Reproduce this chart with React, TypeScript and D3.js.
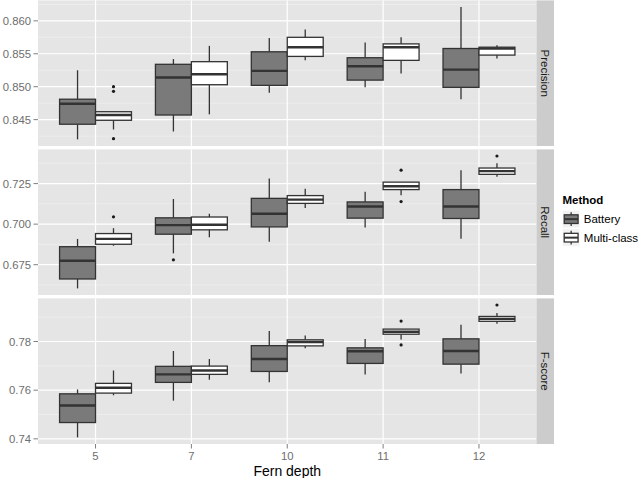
import React from "react";
import * as d3 from "d3";

// ---- data ----
const depths = ["5", "7", "10", "11", "12"];
const methods = ["Battery", "Multi-class"];
const metrics = ["Precision", "Recall", "F-score"];

// [lower whisker, q1, median, q3, upper whisker] per depth
const precisionBattery = [
  [0.842, 0.8443, 0.8474, 0.8481, 0.8525],
  [0.8432, 0.8457, 0.8514, 0.8534, 0.8542],
  [0.8491, 0.8502, 0.8524, 0.8553, 0.8574],
  [0.8499, 0.851, 0.8531, 0.8544, 0.8567],
  [0.8481, 0.8499, 0.8526, 0.8558, 0.8621],
];
const precisionMulti = [
  [0.8435, 0.8449, 0.8457, 0.8462, 0.8462],
  [0.8458, 0.8503, 0.8519, 0.8538, 0.8562],
  [0.854, 0.8546, 0.856, 0.8575, 0.8587],
  [0.852, 0.854, 0.856, 0.8565, 0.8575],
  [0.8543, 0.8548, 0.8558, 0.856, 0.8563],
];
const precisionBatteryOut = [[], [], [], [], []];
const precisionMultiOut = [[0.85, 0.8493, 0.8421], [], [], [], []];

const recallBattery = [
  [0.6604, 0.6662, 0.6774, 0.6861, 0.6909],
  [0.682, 0.6938, 0.6994, 0.7039, 0.7155],
  [0.6892, 0.6983, 0.7064, 0.7159, 0.7282],
  [0.6979, 0.7037, 0.7109, 0.7137, 0.7199],
  [0.691, 0.7035, 0.7109, 0.7213, 0.7333],
];
const recallMulti = [
  [0.6867, 0.6876, 0.6909, 0.6942, 0.6975],
  [0.6919, 0.6965, 0.6996, 0.7044, 0.7064],
  [0.71, 0.7128, 0.7151, 0.7176, 0.7218],
  [0.7178, 0.7213, 0.7234, 0.7259, 0.7259],
  [0.7292, 0.7307, 0.7327, 0.7346, 0.7375],
];
const recallBatteryOut = [[], [0.678], [], [], []];
const recallMultiOut = [[0.7045], [], [], [0.7333, 0.7139], [0.742]];

const fscoreBattery = [
  [0.7406, 0.7467, 0.7537, 0.7585, 0.7603],
  [0.7557, 0.7632, 0.7665, 0.7698, 0.7761],
  [0.7633, 0.7677, 0.7728, 0.7783, 0.7843],
  [0.7664, 0.771, 0.776, 0.7774, 0.781],
  [0.7669, 0.7707, 0.7761, 0.7811, 0.7869],
];
const fscoreMulti = [
  [0.7579, 0.7588, 0.761, 0.7628, 0.7681],
  [0.7643, 0.7665, 0.7681, 0.7699, 0.7728],
  [0.7772, 0.7782, 0.7798, 0.7807, 0.7825],
  [0.7808, 0.783, 0.784, 0.7851, 0.7851],
  [0.7873, 0.7883, 0.7893, 0.7903, 0.7917],
];
const fscoreBatteryOut = [[], [], [], [], []];
const fscoreMultiOut = [[], [], [], [0.7884, 0.7786], [0.795]];

const precisionTicks = [0.845, 0.85, 0.855, 0.86];
const recallTicks = [0.675, 0.7, 0.725];
const fscoreTicks = [0.74, 0.76, 0.78];
const tickFormats = [".3f", ".3f", ".2f"];

const panelStats = [
  [precisionBattery, precisionMulti],
  [recallBattery, recallMulti],
  [fscoreBattery, fscoreMulti],
];
const panelOut = [
  [precisionBatteryOut, precisionMultiOut],
  [recallBatteryOut, recallMultiOut],
  [fscoreBatteryOut, fscoreMultiOut],
];
const panelTicks = [precisionTicks, recallTicks, fscoreTicks];

const fills = ["#7a7a7a", "#ffffff"];

// ---- layout ----
const W = 640;
const H = 478;
const left = 38;
const right = 536.5;
const stripW = 17.5;
const panelTop0 = 0.4;
const panelH = 145.6;
const panelGap = 3.4;
const font = "'Liberation Sans', Arial, Helvetica, sans-serif";

export default function App() {
  const x = d3.scalePoint<string>().domain(depths).range([left, right]).padding(0.6);
  const step = x.step();
  const boxW = 0.375 * step;
  const dodge = [-boxW / 2, boxW / 2];

  return (
    <div style={{ position: "fixed", left: 0, top: 0 }}>
      <svg width={W} height={H} style={{ display: "block", background: "#fff" }} fontFamily={font}>
        {metrics.map((m, pi) => {
          const top = panelTop0 + pi * (panelH + panelGap);
          const bottom = top + panelH;
          const allVals: number[] = [];
          panelStats[pi].forEach((ms) => ms.forEach((s) => allVals.push(s[0], s[4])));
          panelOut[pi].forEach((ms) => ms.forEach((o) => allVals.push(...o)));
          const [mn, mx] = d3.extent(allVals) as [number, number];
          const pad = (mx - mn) * 0.05;
          const y = d3.scaleLinear().domain([mn - pad, mx + pad]).range([bottom, top]);
          const ticks = panelTicks[pi];
          const tstep = ticks[1] - ticks[0];
          const minor: number[] = [];
          for (let v = ticks[0] - tstep / 2; v <= mx + pad; v += tstep) {
            if (v >= mn - pad) minor.push(v);
          }
          const fmt = d3.format(tickFormats[pi]);
          return (
            <g key={m}>
              <rect x={left} y={top} width={right - left} height={panelH} fill="#e5e5e5" />
              {minor.map((v) => (
                <line key={"mi" + v} x1={left} x2={right} y1={y(v)} y2={y(v)} stroke="#f2f2f2" strokeWidth={0.6} />
              ))}
              {ticks.map((v) => (
                <line key={"ma" + v} x1={left} x2={right} y1={y(v)} y2={y(v)} stroke="#ffffff" strokeWidth={1.2} />
              ))}
              {depths.map((d) => (
                <line key={"vx" + d} x1={x(d)} x2={x(d)} y1={top} y2={bottom} stroke="#ffffff" strokeWidth={1.2} />
              ))}
              {/* y axis */}
              {ticks.map((v) => (
                <g key={"yt" + v}>
                  <line x1={left - 4.5} x2={left} y1={y(v)} y2={y(v)} stroke="#7f7f7f" strokeWidth={1} />
                  <text x={left - 7} y={y(v)} dy="0.36em" textAnchor="end" fontSize={11.3} fill="#6e6e6e">
                    {fmt(v)}
                  </text>
                </g>
              ))}
              {/* boxes */}
              {methods.map((me, mi) =>
                depths.map((d, di) => {
                  const s = panelStats[pi][mi][di];
                  const cx = (x(d) as number) + dodge[mi];
                  const x0 = cx - boxW / 2;
                  return (
                    <g key={me + d}>
                      <line x1={cx} x2={cx} y1={y(s[4])} y2={y(s[3])} stroke="#333333" strokeWidth={1.3} />
                      <line x1={cx} x2={cx} y1={y(s[1])} y2={y(s[0])} stroke="#333333" strokeWidth={1.3} />
                      <rect
                        x={x0}
                        y={y(s[3])}
                        width={boxW}
                        height={Math.max(0.5, y(s[1]) - y(s[3]))}
                        fill={fills[mi]}
                        stroke="#333333"
                        strokeWidth={1.3}
                      />
                      <line x1={x0} x2={x0 + boxW} y1={y(s[2])} y2={y(s[2])} stroke="#333333" strokeWidth={2.4} />
                      {panelOut[pi][mi][di].map((o, oi) => (
                        <circle key={oi} cx={cx} cy={y(o)} r={1.6} fill="#1a1a1a" />
                      ))}
                    </g>
                  );
                })
              )}
              {/* strip */}
              <rect x={right} y={top} width={stripW} height={panelH} fill="#cccccc" />
              <text
                transform={`translate(${right + stripW / 2},${top + panelH / 2}) rotate(90)`}
                textAnchor="middle"
                dy="0.35em"
                fontSize={11.5}
                fill="#1a1a1a"
              >
                {m}
              </text>
            </g>
          );
        })}
        {/* x axis */}
        {depths.map((d) => {
          const bottom = panelTop0 + 3 * panelH + 2 * panelGap;
          return (
            <g key={"xt" + d}>
              <line x1={x(d)} x2={x(d)} y1={bottom} y2={bottom + 4.5} stroke="#7f7f7f" strokeWidth={1} />
              <text x={x(d)} y={460.3} textAnchor="middle" fontSize={11.3} fill="#6e6e6e">
                {d}
              </text>
            </g>
          );
        })}
        <text x={(left + right) / 2} y={475.5} textAnchor="middle" fontSize={14} fill="#000">
          Fern depth
        </text>
        {/* legend */}
        <text x={562.5} y={204} fontSize={11.5} fontWeight="bold" fill="#000">
          Method
        </text>
        {methods.map((me, mi) => {
          const ky = 210.5 + mi * 18.5;
          const kx = 562.5;
          const ks = 17.3;
          const cx = kx + ks / 2;
          return (
            <g key={"lg" + me}>
              <rect x={kx} y={ky} width={ks} height={ks} fill="#f2f2f2" stroke="#ffffff" strokeWidth={0.5} />
              <line x1={cx} x2={cx} y1={ky + 1.7} y2={ky + ks - 1.7} stroke="#333333" strokeWidth={1.3} />
              <rect
                x={kx + ks * 0.1}
                y={ky + ks * 0.25}
                width={ks * 0.8}
                height={ks * 0.5}
                fill={fills[mi]}
                stroke="#333333"
                strokeWidth={1.3}
              />
              <line
                x1={kx + ks * 0.1}
                x2={kx + ks * 0.9}
                y1={ky + ks / 2}
                y2={ky + ks / 2}
                stroke="#333333"
                strokeWidth={2}
              />
              <text x={kx + ks + 4} y={ky + ks / 2} dy="0.36em" fontSize={11.5} fill="#000">
                {me}
              </text>
            </g>
          );
        })}
      </svg>
    </div>
  );
}
